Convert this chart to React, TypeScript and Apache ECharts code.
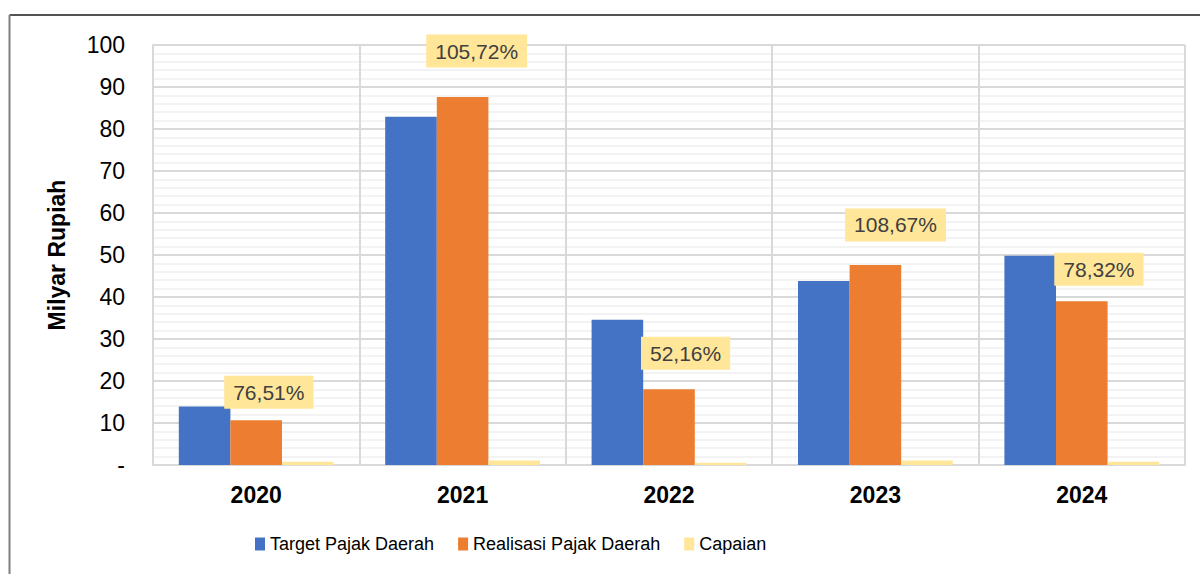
import React, { useEffect, useRef } from "react";
import * as echarts from "echarts";

const categories = ["2020", "2021", "2022", "2023", "2024"];
const targetValues = [13.9, 82.9, 34.6, 43.8, 49.8];
const realisasiValues = [10.63, 87.6, 18.05, 47.6, 39.0];
const capaianValues = [0.7651, 1.0572, 0.5216, 1.0867, 0.7832];
const capaianLabels = ["76,51%", "105,72%", "52,16%", "108,67%", "78,32%"];
const yTicks = [0, 10, 20, 30, 40, 50, 60, 70, 80, 90, 100];

// label box placement (style, px offsets from default "top" position)
const LABEL_OFFSETS = [
  [-39, -48],
  [-37.5, -388],
  [-35, -88],
  [-31.5, -214],
  [-34.5, -171],
];

const FONT = "'Liberation Sans', Arial, sans-serif";

export default function App() {
  const ref = useRef<HTMLDivElement>(null);
  useEffect(() => {
    if (!ref.current) return;
    const chart = echarts.init(ref.current, undefined, { renderer: "svg" });
    chart.setOption({
      animation: false,
      backgroundColor: "#ffffff",
      textStyle: { fontFamily: FONT },
      graphic: [
        {
          type: "line",
          shape: { x1: 9.5, y1: 15, x2: 1200, y2: 15 },
          style: { stroke: "#1a1a1a", lineWidth: 1.5 },
        },
        {
          type: "line",
          shape: { x1: 9.5, y1: 15, x2: 9.5, y2: 574 },
          style: { stroke: "#7f7f7f", lineWidth: 2 },
        },
      ],
      grid: { left: 153, right: 15, top: 45, bottom: 109, containLabel: false },
      legend: {
        left: 250,
        top: 530,
        itemWidth: 10,
        itemHeight: 13,
        itemGap: 24,
        icon: "rect",
        textStyle: {
          fontFamily: FONT,
          fontSize: 18,
          color: "#000",
        },
        data: ["Target Pajak Daerah", "Realisasi Pajak Daerah", "Capaian"],
      },
      xAxis: {
        type: "category",
        data: categories,
        axisLine: { show: true, lineStyle: { color: "#d9d9d9", width: 2 } },
        axisTick: { show: false },
        splitLine: { show: true, lineStyle: { color: "#d9d9d9", width: 2 } },
        axisLabel: {
          fontSize: 23,
          fontWeight: "bold",
          color: "#000",
          margin: 18,
          fontFamily: FONT,
        },
      },
      yAxis: {
        type: "value",
        min: yTicks[0],
        max: yTicks[yTicks.length - 1],
        interval: 10,
        name: "Milyar Rupiah",
        nameLocation: "middle",
        nameRotate: 90,
        nameGap: 85,
        nameTextStyle: { fontSize: 23, fontWeight: "bold", color: "#000", fontFamily: FONT },
        axisLine: { show: true, lineStyle: { color: "#d9d9d9", width: 2 } },
        axisTick: { show: false },
        axisLabel: {
          fontSize: 23,
          color: "#000",
          margin: 28,
          fontFamily: FONT,
          formatter: (v: number) => (v === 0 ? "-" : String(v)),
        },
        splitLine: { show: true, lineStyle: { color: "#d9d9d9", width: 2 } },
        minorTick: { show: false, splitNumber: 5 },
        minorSplitLine: { show: true, lineStyle: { color: "#efefef", width: 1.5 } },
      },
      series: [
        {
          name: "Target Pajak Daerah",
          type: "bar",
          data: targetValues,
          barGap: "0%",
          barCategoryGap: "25%",
          itemStyle: { color: "#4472c4" },
        },
        {
          name: "Realisasi Pajak Daerah",
          type: "bar",
          data: realisasiValues,
          barGap: "0%",
          barCategoryGap: "25%",
          itemStyle: { color: "#ed7d31" },
        },
        {
          name: "Capaian",
          type: "bar",
          barGap: "0%",
          barCategoryGap: "25%",
          itemStyle: { color: "#ffe699" },
          z: 5,
          data: capaianValues.map((v, i) => ({
            value: v,
            label: { offset: LABEL_OFFSETS[i] },
          })),
          label: {
            show: true,
            position: "top",
            distance: 5,
            formatter: (p: any) => capaianLabels[p.dataIndex],
            backgroundColor: "#ffe699",
            padding: [6, 9],
            fontSize: 21,
            color: "#404040",
            fontFamily: FONT,
          },
        },
      ],
    });
    return () => chart.dispose();
  }, []);
  return (
    <div
      ref={ref}
      style={{ position: "fixed", left: 0, top: 0, width: 1200, height: 574 }}
    />
  );
}
